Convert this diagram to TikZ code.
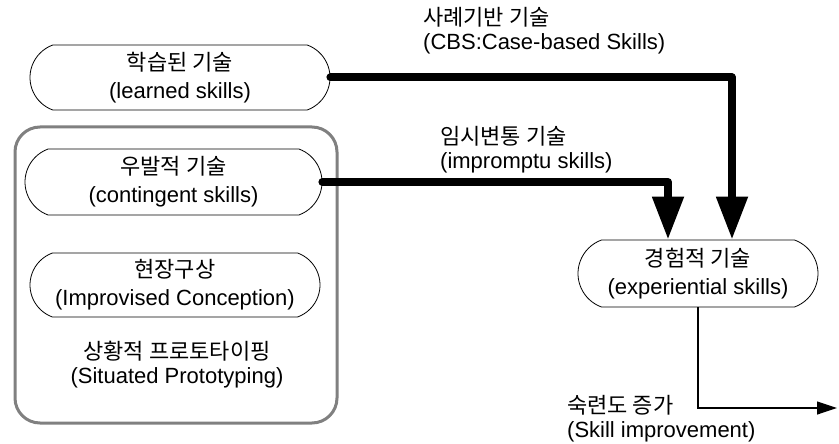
\documentclass[tikz,border=0pt]{standalone}
\usepackage{fontspec}
\setmainfont{Liberation Sans}
\newfontfamily\kr{Noto Sans CJK KR}
\usetikzlibrary{arrows.meta,shapes.misc}
\begin{document}
\begin{tikzpicture}[x=1pt,y=-1pt,
  skill/.style={rounded rectangle, rounded rectangle arc length=140, draw=black, line width=0.8pt,
    inner sep=0pt, align=center, font=\fontsize{22}{28}\selectfont},
  lbl/.style={anchor=west, align=left, inner sep=0pt, font=\fontsize{22}{24}\selectfont},
  txt/.style={align=center, inner sep=0pt, font=\fontsize{22}{24}\selectfont},
  big/.style={line width=8pt, line join=round, line cap=round, -{Triangle[length=43pt,width=30pt]}},
  thinarrow/.style={line width=1.2pt, -{Triangle[length=20pt,width=13pt]}},
  grp/.style={draw=gray, line width=3pt, rounded corners=25pt, inner sep=0pt}]
\useasboundingbox (0,0) rectangle (839,444);

\node[grp, minimum width=322pt, minimum height=296pt] (group) at (176,275) {};

\node[skill, minimum width=300pt, minimum height=65pt] (learned) at (180,77.5)
  {{\kr 학습된 기술}\\(learned skills)};
\node[skill, minimum width=297pt, minimum height=66pt] (cont) at (173.5,182)
  {{\kr 우발적 기술}\\(contingent skills)};
\node[skill, minimum width=290pt, minimum height=64pt] (impr) at (175,285)
  {{\kr 현장구상}\\(Improvised Conception)};
\node[txt] (situ) at (177,365) {{\kr 상황적 프로토타이핑}\\(Situated Prototyping)};

\node[skill, minimum width=240pt, minimum height=67pt] (exp) at (698,273.5)
  {{\kr 경험적 기술}\\(experiential skills)};

\node[lbl] (cbs) at (423,31) {{\kr 사례기반 기술}\\(CBS:Case-based Skills)};
\node[lbl] (imp) at (440,150) {{\kr 임시변통 기술}\\(impromptu skills)};
\node[lbl] (impv) at (567,419) {{\kr 숙련도 증가}\\(Skill improvement)};

\coordinate (out) at (837,408);

\draw[big] (learned.east) -| ([xshift=34pt]exp.north);
\draw[big] (cont.east) -| ([xshift=-30pt]exp.north);
\draw[thinarrow] (exp.south) |- (out);
\end{tikzpicture}
\end{document}
